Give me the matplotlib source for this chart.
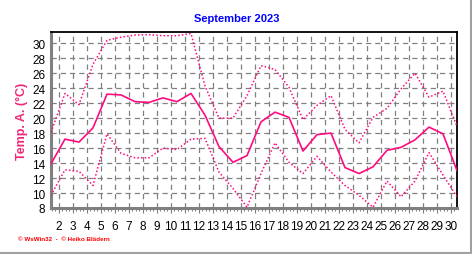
import matplotlib
matplotlib.use('Agg')
import matplotlib.pyplot as plt
from matplotlib.lines import Line2D
import numpy as np

plt.rcParams['font.family'] = ['Liberation Sans', 'DejaVu Sans']

# Tageswerte September 2023
days = list(range(1, 31))
t_mean = [13.9, 17.2, 16.8, 18.7, 23.2, 23.1, 22.2, 22.1, 22.7, 22.2,
          23.3, 20.4, 16.2, 14.1, 15.0, 19.5, 20.8, 20.1, 15.6, 17.8,
          18.0, 13.4, 12.6, 13.5, 15.7, 16.1, 17.1, 18.8, 17.9, 13.0]
t_max = [18.1, 23.3, 21.8, 27.2, 30.4, 30.8, 31.1, 31.15, 31.0, 31.0,
         31.3, 24.3, 20.0, 20.0, 23.0, 27.0, 26.5, 24.1, 19.8, 21.7,
         23.0, 18.5, 16.7, 20.1, 21.3, 23.9, 26.0, 22.8, 23.6, 18.9]
t_min = [9.7, 13.1, 12.9, 11.0, 17.9, 15.3, 14.7, 14.7, 16.0, 15.8,
         17.2, 17.3, 12.8, 10.6, 8.1, 12.6, 16.7, 14.1, 12.6, 14.9,
         12.8, 11.0, 9.7, 8.1, 11.6, 9.5, 11.6, 15.4, 12.4, 9.5]
x_labels = [str(d) for d in range(2, 31)]
y_ticks = list(range(8, 31, 2))

LINE = '#ff0a80'
LABEL = '#f0287a'

fig = plt.figure(figsize=(4.72, 2.55), dpi=100)
fig.patch.set_facecolor('white')
ax = fig.add_axes([51 / 472, 1 - 209 / 255, 406 / 472, 176 / 255])

ax.plot(days, t_max, color=LINE, lw=1.1, linestyle=(0, (1, 1.4)), zorder=3)
ax.plot(days, t_min, color=LINE, lw=1.1, linestyle=(0, (1, 1.4)), zorder=3)
ax.plot(days, t_mean, color=LINE, lw=1.2, zorder=4)

ax.set_xlim(1, 30)
ax.set_ylim(8, 31.5)

# Gitter und Ticks (Beschriftung leicht links vom Tagespunkt, wie im Original)
xpos = [d - 0.43 for d in range(2, 31)]
ax.set_xticks(xpos)
ax.set_xticklabels(x_labels)
ax.set_xticks(np.arange(1.07, 30, 0.25), minor=True)
ax.set_yticks(y_ticks)
ax.set_yticklabels([str(v) for v in y_ticks])

ax.grid(True, which='major', color='#808080', lw=0.9,
        linestyle=(0, (4.2, 3.2)), zorder=1)
ax.tick_params(axis='x', which='major', length=3.5, width=0.8,
               color='#808080', direction='out', pad=5, labelsize=8.5)
ax.tick_params(axis='x', which='minor', length=2, width=0.7,
               color='#808080', direction='out')
ax.tick_params(axis='y', length=0, pad=4, labelsize=8.5)

for s in ['left', 'bottom']:
    ax.spines[s].set_color('#808080')
    ax.spines[s].set_linewidth(2.2)
for s in ['top', 'right']:
    ax.spines[s].set_color('black')
    ax.spines[s].set_linewidth(1.3)

fig.text(237 / 472, 1 - 19 / 255, 'September 2023', color='#0000ff',
         fontsize=8, fontweight='bold', ha='center', va='center')
fig.text(22 / 472, 1 - 121 / 255, 'Temp. A. (°C)', color=LABEL,
         fontsize=9, fontweight='bold', rotation=90, ha='center', va='center')
fig.text(18 / 472, 1 - 240 / 255, '© WsWin32  -  © Heiko Blädern',
         color='#ff0000', fontsize=4.5, fontweight='bold',
         ha='left', va='center')

# grauer Rahmen rechts und unten
fig.add_artist(Line2D([0, 1 - 1.5 / 472, 1 - 1.5 / 472], [1.5 / 255, 1.5 / 255, 1],
                      transform=fig.transFigure, color='#a0a0a0', lw=1.5))

fig.savefig('out.png', dpi=100)
